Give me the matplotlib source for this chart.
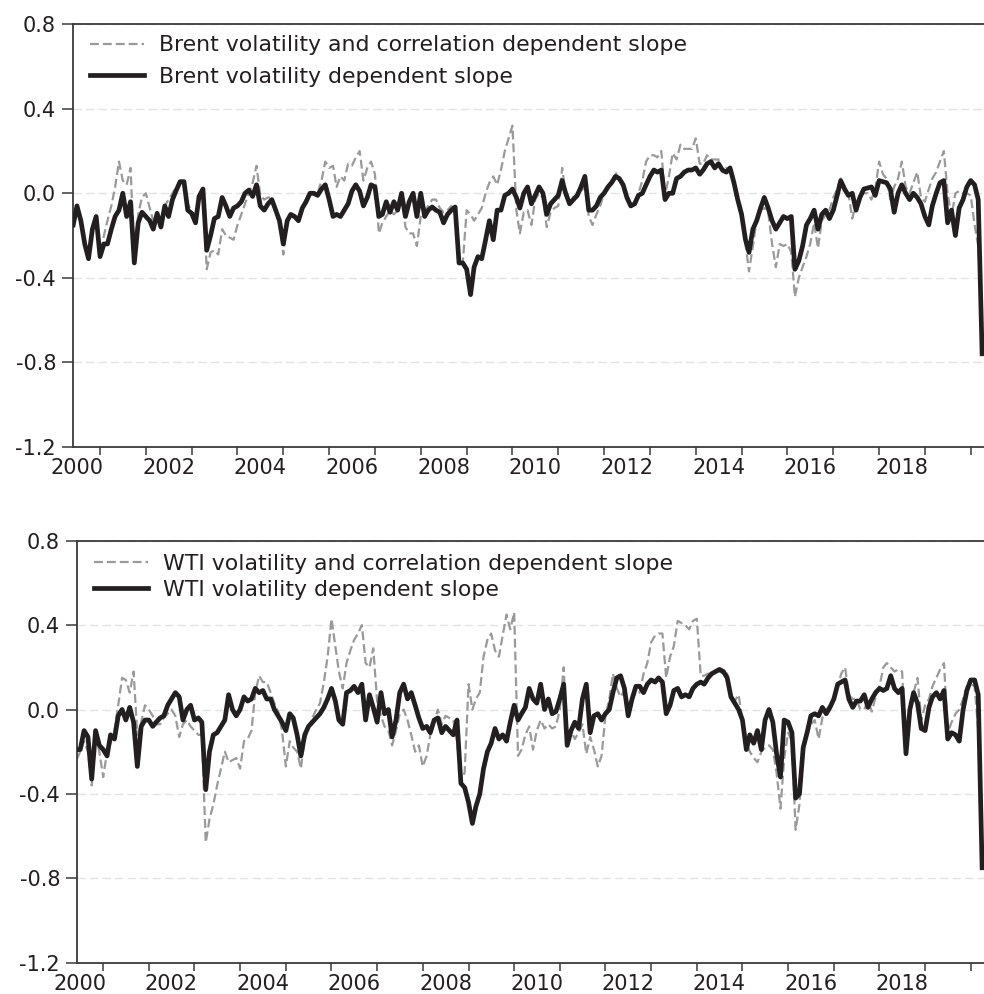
import pandas as pd
import matplotlib
matplotlib.use("Agg")
import matplotlib.pyplot as plt
import matplotlib.dates as mdates

# Monthly observations, June 2000 .. April 2020
dates = pd.date_range("2000-06-01", periods=239, freq="MS")

brent_vol = [
    -0.15, -0.06, -0.13, -0.24, -0.31, -0.17, -0.11,
    -0.30, -0.24, -0.24, -0.17, -0.11, -0.08, 0.00, -0.11, -0.04, -0.33, -0.14, -0.09,
    -0.11, -0.13, -0.17, -0.095, -0.16, -0.06, -0.11, -0.03, 0.015, 0.055, 0.055, -0.08,
    -0.095, -0.14, -0.015, 0.02, -0.27, -0.20, -0.12, -0.11, -0.02, -0.06, -0.11, -0.07,
    -0.06, -0.04, 0.00, 0.015, -0.015, 0.04, -0.06, -0.08, -0.05, -0.03, -0.08, -0.13,
    -0.24, -0.13, -0.10, -0.11, -0.13, -0.07, -0.04, 0.00, 0.00, -0.01, 0.02, 0.04,
    -0.03, -0.11, -0.10, -0.11, -0.08, -0.05, 0.01, 0.04, 0.01, -0.06, -0.02, 0.04,
    0.03, -0.11, -0.10, -0.04, -0.09, -0.04, -0.08, 0.00, -0.11, -0.04, 0.00, -0.11,
    0.00, -0.11, -0.08, -0.065, -0.08, -0.09, -0.14, -0.10, -0.08, -0.065, -0.33, -0.33,
    -0.36, -0.48, -0.35, -0.30, -0.31, -0.22, -0.13, -0.22, -0.08, -0.08, -0.01, 0.00,
    0.02, -0.02, -0.07, 0.00, 0.03, -0.05, -0.01, 0.03, 0.00, -0.10, -0.05, -0.03,
    -0.01, 0.06, 0.00, -0.05, -0.03, -0.01, 0.03, 0.08, -0.08, -0.08, -0.06, -0.02,
    0.00, 0.03, 0.05, 0.08, 0.07, 0.04, -0.02, -0.06, -0.05, -0.01, 0.00, 0.04,
    0.08, 0.11, 0.10, 0.11, -0.03, 0.00, 0.00, 0.07, 0.08, 0.10, 0.11, 0.11,
    0.12, 0.09, 0.11, 0.14, 0.15, 0.12, 0.14, 0.11, 0.10, 0.12, 0.05, -0.03,
    -0.10, -0.22, -0.28, -0.17, -0.13, -0.07, -0.02, -0.07, -0.13, -0.17, -0.14, -0.11,
    -0.12, -0.11, -0.36, -0.32, -0.25, -0.15, -0.12, -0.08, -0.17, -0.10, -0.08, -0.12,
    -0.08, -0.01, 0.06, 0.02, -0.01, 0.00, -0.08, -0.02, 0.02, 0.025, 0.03, -0.01,
    0.06, 0.055, 0.05, 0.02, -0.09, 0.00, 0.04, 0.00, -0.03, 0.00, -0.02, -0.05,
    -0.11, -0.15, -0.06, 0.00, 0.05, 0.06, -0.14, -0.08, -0.20, -0.07, -0.03, 0.03,
    0.06, 0.04, -0.03, -0.76,
]

brent_volcorr = [
    -0.15, -0.07, -0.14, -0.25, -0.31, -0.18, -0.12,
    -0.30, -0.20, -0.13, -0.06, 0.03, 0.15, 0.06, 0.04, 0.12, -0.30, -0.10, -0.02,
    0.00, -0.07, -0.13, -0.12, -0.12, -0.06, -0.03, 0.00, 0.03, 0.05, 0.05, -0.05,
    -0.09, -0.10, -0.02, 0.00, -0.36, -0.28, -0.27, -0.29, -0.17, -0.20, -0.21, -0.22,
    -0.15, -0.10, -0.05, 0.00, 0.05, 0.13, -0.01, -0.03, -0.02, -0.02, -0.07, -0.15,
    -0.29, -0.12, -0.11, -0.12, -0.12, -0.08, -0.02, 0.00, 0.00, 0.00, 0.06, 0.15,
    0.12, 0.13, 0.03, 0.08, 0.06, 0.14, 0.13, 0.17, 0.20, 0.06, 0.12, 0.15,
    0.09, -0.19, -0.14, -0.11, -0.08, -0.10, -0.08, -0.01, -0.16, -0.19, -0.19, -0.25,
    -0.11, -0.08, -0.06, -0.03, -0.03, -0.07, -0.09, -0.08, -0.06, -0.09, -0.33, -0.33,
    -0.08, -0.10, -0.13, -0.10, -0.07, 0.00, 0.05, 0.08, 0.04, 0.11, 0.20, 0.26,
    0.32, -0.08, -0.19, -0.09, -0.08, -0.15, -0.03, 0.00, -0.02, -0.16, -0.09, -0.07,
    -0.06, 0.12, 0.00, -0.01, -0.02, -0.02, 0.01, 0.03, -0.11, -0.15, -0.10, -0.06,
    0.00, 0.02, 0.05, 0.10, 0.06, 0.03, -0.03, -0.05, -0.04, 0.00, 0.06, 0.15,
    0.18, 0.18, 0.17, 0.20, -0.01, 0.08, 0.19, 0.16, 0.23, 0.21, 0.21, 0.21,
    0.26, 0.14, 0.14, 0.18, 0.16, 0.16, 0.16, 0.10, 0.12, 0.10, 0.04, -0.03,
    -0.12, -0.24, -0.37, -0.25, -0.13, -0.08, -0.07, -0.09, -0.24, -0.35, -0.24, -0.25,
    -0.24, -0.28, -0.49, -0.40, -0.35, -0.30, -0.24, -0.14, -0.26, -0.13, -0.10, -0.08,
    -0.02, 0.02, 0.07, 0.00, 0.00, -0.12, -0.05, -0.01, 0.00, 0.00, -0.03, 0.02,
    0.15, 0.09, 0.07, -0.03, 0.03, 0.07, 0.15, 0.03, 0.00, 0.05, 0.10, -0.02,
    -0.04, 0.02, 0.07, 0.10, 0.15, 0.20, 0.00, -0.11, 0.00, 0.01, 0.00, 0.00,
    -0.01, -0.15, -0.25, -0.63,
]

wti_vol = [
    -0.19, -0.19, -0.10, -0.13, -0.33, -0.10, -0.17,
    -0.19, -0.22, -0.12, -0.14, -0.03, 0.00, -0.05, 0.01, -0.06, -0.27, -0.08, -0.05,
    -0.05, -0.08, -0.06, -0.04, -0.03, 0.02, 0.05, 0.08, 0.06, -0.05, 0.00, 0.02,
    -0.05, -0.04, -0.06, -0.38, -0.20, -0.12, -0.11, -0.08, -0.05, 0.07, 0.00, -0.03,
    0.00, 0.06, 0.04, 0.05, 0.10, 0.08, 0.09, 0.05, 0.05, 0.00, -0.03, -0.06,
    -0.10, -0.02, -0.04, -0.12, -0.22, -0.12, -0.08, -0.06, -0.04, -0.02, 0.01, 0.05,
    0.10, 0.04, -0.05, -0.07, 0.08, 0.09, 0.11, 0.08, 0.12, -0.05, 0.07, 0.01,
    -0.06, 0.08, -0.02, 0.00, -0.13, -0.05, 0.08, 0.12, 0.05, 0.08, 0.02, -0.04,
    -0.09, -0.08, -0.11, -0.05, -0.04, -0.11, -0.08, -0.10, -0.12, -0.05, -0.35, -0.37,
    -0.44, -0.54, -0.46, -0.40, -0.28, -0.20, -0.16, -0.09, -0.14, -0.12, -0.15, -0.06,
    0.02, -0.05, -0.02, 0.01, 0.10, 0.05, 0.03, 0.12, 0.00, 0.05, -0.02, -0.01,
    0.05, 0.12, -0.17, -0.10, -0.06, -0.09, 0.05, 0.12, -0.11, -0.03, -0.02, -0.05,
    -0.02, 0.00, 0.08, 0.15, 0.16, 0.10, -0.03, 0.05, 0.11, 0.11, 0.08, 0.12,
    0.14, 0.13, 0.15, 0.13, -0.02, 0.02, 0.09, 0.10, 0.06, 0.07, 0.06, 0.10,
    0.12, 0.13, 0.12, 0.15, 0.17, 0.18, 0.19, 0.18, 0.15, 0.06, 0.03, 0.00,
    -0.05, -0.19, -0.12, -0.16, -0.10, -0.19, -0.05, 0.00, -0.06, -0.21, -0.32, -0.05,
    -0.06, -0.11, -0.42, -0.40, -0.18, -0.11, -0.03, -0.02, -0.03, 0.01, -0.02, 0.01,
    0.05, 0.12, 0.13, 0.14, 0.05, 0.01, 0.04, 0.04, 0.07, 0.01, 0.05, 0.08,
    0.10, 0.09, 0.10, 0.16, 0.10, 0.08, 0.10, -0.21, 0.00, 0.08, 0.03, -0.09,
    -0.10, 0.01, 0.06, 0.08, 0.05, 0.09, -0.14, -0.11, -0.12, -0.15, 0.00, 0.09,
    0.14, 0.14, 0.07, -0.75,
]

wti_volcorr = [
    -0.24, -0.20, -0.15, -0.20, -0.36, -0.12, -0.20,
    -0.32, -0.20, -0.16, -0.10, 0.02, 0.15, 0.14, 0.08, 0.18, -0.12, -0.06, 0.02,
    0.00, -0.03, -0.07, -0.07, -0.04, -0.02, 0.00, -0.03, -0.13, -0.07, -0.05, -0.08,
    -0.10, -0.12, -0.12, -0.63, -0.52, -0.45, -0.36, -0.28, -0.20, -0.25, -0.24, -0.23,
    -0.28, -0.15, -0.14, -0.10, 0.08, 0.16, 0.13, 0.13, 0.08, 0.03, -0.01, -0.10,
    -0.27, -0.15, -0.18, -0.20, -0.28, -0.14, -0.09, -0.04, 0.00, 0.03, 0.13, 0.25,
    0.43, 0.30, 0.18, 0.10, 0.22, 0.28, 0.33, 0.36, 0.40, 0.22, 0.20, 0.29,
    0.04, -0.03, -0.08, -0.10, -0.17, -0.10, -0.02, 0.00, -0.05, -0.12, -0.20, -0.17,
    -0.27, -0.22, -0.12, -0.06, 0.00, -0.07, -0.03, -0.04, -0.05, -0.15, -0.33, -0.30,
    0.12, 0.00, 0.05, 0.08, 0.25, 0.33, 0.36, 0.28, 0.25, 0.35, 0.45, 0.38,
    0.46, -0.22, -0.19, -0.12, -0.08, -0.19, -0.10, -0.05, -0.09, -0.07, -0.09, -0.08,
    0.00, 0.20, -0.14, -0.10, -0.14, -0.11, -0.07, -0.21, -0.13, -0.19, -0.27, -0.22,
    -0.03, 0.05, 0.17, 0.10, 0.06, 0.09, 0.02, 0.05, 0.08, 0.08, 0.17, 0.22,
    0.32, 0.35, 0.36, 0.36, 0.15, 0.25, 0.30, 0.42, 0.41, 0.40, 0.38, 0.42,
    0.43, 0.16, 0.16, 0.17, 0.17, 0.18, 0.18, 0.17, 0.17, 0.07, 0.04, 0.07,
    -0.05, -0.15, -0.20, -0.23, -0.25, -0.20, -0.18, -0.17, -0.19, -0.30, -0.47, -0.23,
    -0.11, -0.15, -0.57, -0.45, -0.20, -0.12, -0.07, -0.05, -0.14, -0.04, 0.00, 0.02,
    0.05, 0.11, 0.17, 0.20, 0.07, 0.05, 0.05, 0.00, 0.00, 0.04, -0.01, 0.06,
    0.11, 0.20, 0.22, 0.20, 0.18, 0.19, 0.18, -0.20, 0.00, 0.08, 0.15, -0.05,
    0.02, 0.05, 0.11, 0.15, 0.19, 0.22, -0.11, -0.06, -0.02, 0.00, 0.05, 0.11,
    0.12, 0.11, -0.10, -0.60,
]

y_ticks = [-1.2, -0.8, -0.4, 0.0, 0.4, 0.8]
y_labels = ["-1.2", "-0.8", "-0.4", "0.0", "0.4", "0.8"]

labels_top = ["Brent volatility and correlation dependent slope",
              "Brent volatility dependent slope"]
labels_bottom = ["WTI volatility and correlation dependent slope",
                 "WTI volatility dependent slope"]

plt.rcParams["font.family"] = ["DejaVu Sans"]
TEXT = "#231f20"
SPINE = "#3a3a3a"
GREY = "#9a9a9a"
BLACK = "#231f20"

W, H = 984, 994
fig = plt.figure(figsize=(W / 100, H / 100), dpi=100)


def px_axes(left, top, right, bottom):
    return fig.add_axes([left / W, 1 - bottom / H, (right - left) / W, (bottom - top) / H])


ax1 = px_axes(72.7, 24.3, 984, 446.7)
ax2 = px_axes(76.7, 540.7, 984, 962.7)


def draw(ax, corr, vol, labels, xlim, spacing, anchor):
    ax.plot(dates, corr, color=GREY, lw=1.6, linestyle=(0, (4, 1.8)),
            label=labels[0], zorder=2)
    ax.plot(dates, vol, color=BLACK, lw=3.4, solid_joinstyle="round",
            label=labels[1], zorder=3)
    ax.set_ylim(-1.2, 0.8)
    ax.set_yticks(y_ticks)
    ax.set_yticklabels(y_labels)
    ax.set_xlim(pd.Timestamp(xlim[0]), pd.Timestamp(xlim[1]))
    ax.yaxis.grid(True, color="#e4e4e4", linestyle=(0, (6, 3)), linewidth=1.0, zorder=0)
    ax.xaxis.grid(False)
    ax.set_axisbelow(True)

    ax.xaxis.set_major_locator(mdates.YearLocator(1))
    ax.xaxis.set_major_formatter(plt.NullFormatter())
    ax.xaxis.set_minor_locator(mdates.YearLocator(2, month=7, day=1))
    ax.xaxis.set_minor_formatter(mdates.DateFormatter("%Y"))
    ax.tick_params(axis="x", which="major", direction="out", length=6,
                   width=1.1, color=SPINE)
    ax.tick_params(axis="x", which="minor", length=0, pad=8,
                   labelsize=15, labelcolor=TEXT)
    ax.tick_params(axis="y", direction="out", length=8, width=1.1, color=SPINE,
                   pad=4, labelsize=15, labelcolor=TEXT)

    for side in ("left", "top", "bottom"):
        ax.spines[side].set_color(SPINE)
        ax.spines[side].set_linewidth(1.3)
    ax.spines["right"].set_visible(False)

    leg = ax.legend(loc="upper left", bbox_to_anchor=anchor, frameon=False,
                    fontsize=15.8, handlelength=2.45, handletextpad=0.68,
                    labelspacing=spacing, borderaxespad=0.0, borderpad=0.2)
    for t in leg.get_texts():
        t.set_color(TEXT)


draw(ax1, brent_volcorr, brent_vol, labels_top, ("2000-05-28", "2020-04-16"),
     0.52, (0.0143, 0.984))
draw(ax2, wti_volcorr, wti_vol, labels_bottom, ("2000-06-03", "2020-04-16"),
     0.3, (0.0143, 0.980))

fig.savefig("out.png", dpi=100)
